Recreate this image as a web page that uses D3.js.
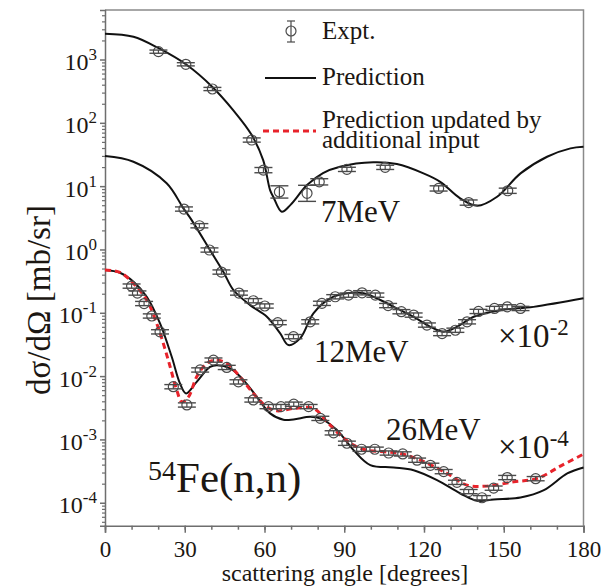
<!DOCTYPE html>
<html>
<head>
<meta charset="utf-8">
<script src="https://cdn.jsdelivr.net/npm/d3@7"></script>
<style>
body { margin: 0; background: #fff; }
svg { display: block; font-family: "Liberation Serif", "Times New Roman", serif; }
</style>
</head>
<body>
<svg width="605" height="588"></svg>
<script>
// 54Fe(n,n) angular distributions, values as plotted (12 MeV x1e-2, 26 MeV x1e-4)
var angles7 = [20.1, 30.4, 40.4, 55.2, 59.6, 65.6, 76.0, 80.6, 91.0, 105.4, 125.5, 136.8, 151.5];
var expt7 = [1330, 840, 342, 53.5, 17.9, 8.1, 7.7, 11.7, 18.4, 19.8, 9.2, 5.5, 8.45];
var err7 = [0.06, 0.06, 0.06, 0.08, 0.1, 0.25, 0.34, 0.12, 0.08, 0.08, 0.1, 0.1, 0.1];

var curveAngles7 = [0, 10.7, 20.0, 30.8, 40.3, 48.2, 55.2, 59.5, 62.1, 63.3, 66.5, 69.7, 76.0, 82.0, 88.4, 100.9, 109.8, 119.8, 126.1, 133.6, 140.0, 147.5, 156.3, 166.3, 175.1, 180];
var pred7 = [2560, 2290, 1520, 818, 372, 159, 64.1, 25.8, 8.67, 6.81, 3.94, 5.02, 10.4, 16.1, 20.3, 23.8, 22.3, 15.9, 11.7, 6.41, 4.90, 6.81, 15.9, 29.1, 39.5, 41.9];

var angles12 = [29.7, 35.5, 39.3, 43.8, 50.4, 55.8, 60.1, 65.0, 70.9, 77.2, 81.6, 86.6, 91.6, 96.7, 101.7, 106.5, 111.5, 116.1, 121.1, 126.8, 131.8, 136.2, 140.5, 146.5, 151.3, 156.3];
var expt12 = [4.35, 2.37, 0.98, 0.44, 0.205, 0.155, 0.128, 0.07, 0.042, 0.072, 0.141, 0.179, 0.190, 0.207, 0.190, 0.13, 0.104, 0.092, 0.064, 0.047, 0.053, 0.072, 0.105, 0.117, 0.124, 0.117];

var curveAngles12 = [0, 10.7, 23.2, 29.5, 32.6, 39.5, 44.5, 48.3, 54.6, 60.9, 65.9, 69.0, 73.4, 78.4, 84.7, 91.0, 97.3, 103.6, 109.8, 116.1, 122.4, 127.4, 132.4, 138.7, 148.7, 161.2, 180];
var pred12 = [29.9, 24.3, 11.1, 4.46, 2.91, 0.98, 0.445, 0.229, 0.132, 0.0865, 0.0473, 0.0309, 0.0394, 0.098, 0.169, 0.203, 0.203, 0.159, 0.117, 0.0865, 0.0601, 0.0501, 0.0601, 0.0865, 0.110, 0.124, 0.169];

var angles26 = [10.0, 12.2, 14.7, 17.6, 20.7, 25.7, 30.8, 35.8, 40.8, 45.8, 50.2, 55.8, 61.5, 66.2, 71.0, 76.6, 81.0, 86.0, 91.0, 96.5, 101.5, 106.7, 112.0, 117.4, 122.4, 127.4, 132.4, 136.8, 141.8, 146.2, 151.3, 162.0];
var expt26 = [0.264, 0.205, 0.14, 0.089, 0.050, 0.0068, 0.0035, 0.0125, 0.0179, 0.0137, 0.0081, 0.0042, 0.0033, 0.0033, 0.0036, 0.0033, 0.00215, 0.00127, 0.00087, 0.00070, 0.00070, 0.00061, 0.00059, 0.00047, 0.00039, 0.00031, 0.00021, 0.00015, 0.00012, 0.00017, 0.00025, 0.00024];

var curveAngles26 = [0, 5.6, 10.7, 15.7, 20.7, 25.1, 28.2, 30.5, 34.5, 39.5, 42.1, 47.1, 52.1, 57.1, 62.1, 67.1, 70.9, 77.2, 81.0, 87.3, 93.5, 99.8, 108.6, 116.1, 124.9, 133.7, 140.0, 146.2, 156.3, 165.1, 173.9, 180];
var pred26 = [0.473, 0.428, 0.309, 0.179, 0.068, 0.0202, 0.00767, 0.00533, 0.00813, 0.0140, 0.0149, 0.0132, 0.00865, 0.00471, 0.00258, 0.00205, 0.00207, 0.00228, 0.00215, 0.0014, 6.78e-4, 3.93e-4, 3.61e-4, 3.27e-4, 2.28e-4, 1.40e-4, 1.07e-4, 1.13e-4, 1.21e-4, 1.58e-4, 2.9e-4, 3.61e-4];

var updAngles26 = [0, 5.6, 10.7, 15.7, 19.9, 23.8, 27.0, 28.9, 31.4, 34.5, 38.3, 41.4, 45.8, 50.8, 55.8, 60.9, 64.7, 70.9, 78.4, 83.5, 88.5, 93.5, 98.5, 111.1, 118.6, 128.7, 136.2, 143.7, 153.8, 162.6, 171.3, 180];
var upd26 = [0.473, 0.435, 0.29, 0.159, 0.060, 0.0179, 0.00601, 0.00393, 0.0047, 0.00975, 0.0159, 0.0179, 0.0159, 0.00975, 0.00533, 0.00327, 0.00283, 0.00309, 0.00309, 0.0019, 0.00117, 8.13e-4, 6.78e-4, 6.01e-4, 4.71e-4, 2.9e-4, 1.9e-4, 1.83e-4, 2.14e-4, 2.42e-4, 3.78e-4, 5.86e-4];

var xTicks = [0, 30, 60, 90, 120, 150, 180];
var yDecades = [-4, -3, -2, -1, 0, 1, 2, 3];

(function() {
var svg = d3.select("svg"),
    pLeft = 105, pRight = 583.5, pTop = 10, pBottom = 525.7;

var x = d3.scaleLinear().domain([0, 180]).range([pLeft, pRight]);
var y = d3.scaleLog().domain([4.34e-5, 6050]).range([pBottom, pTop]);

var axisCol = "#6e6e6e", textCol = "#1c1712";

// frame
svg.append("path")
  .attr("d", "M" + pLeft + "," + pTop + "H" + pRight + "V" + pBottom)
  .attr("fill", "none").attr("stroke", "#8a8a8a").attr("stroke-width", 1.5);

// x axis
var minorX = d3.range(0, 181, 10);
svg.append("g")
  .attr("transform", "translate(0," + pBottom + ")")
  .call(d3.axisBottom(x).tickValues(minorX).tickSize(4).tickFormat(""))
  .call(function(g) { g.select(".domain").remove(); g.selectAll("line").attr("stroke", axisCol).attr("stroke-width", 1.5); });

var gx = svg.append("g")
  .attr("transform", "translate(0," + pBottom + ")")
  .call(d3.axisBottom(x).tickValues(xTicks).tickSize(7).tickPadding(8).tickFormat(d3.format("d")));
gx.select(".domain").attr("stroke", axisCol).attr("stroke-width", 1.5);
gx.selectAll("line").attr("stroke", axisCol).attr("stroke-width", 1.5);
gx.selectAll("text").attr("fill", textCol).style("font-size", "23px").style("font-family", "Liberation Serif");

// y axis
var minorY = [];
for (var k = -5; k <= 3; k++) {
  for (var m = 2; m <= 9; m++) {
    var v = m * Math.pow(10, k);
    if (v > 4.4e-5 && v < 6000) minorY.push(v);
  }
}
svg.append("g")
  .attr("transform", "translate(" + pLeft + ",0)")
  .call(d3.axisLeft(y).tickValues(minorY).tickSize(3).tickFormat(""))
  .call(function(g) { g.select(".domain").remove(); g.selectAll("line").attr("stroke", axisCol).attr("stroke-width", 1.2); });

var gy = svg.append("g")
  .attr("transform", "translate(" + pLeft + ",0)")
  .call(d3.axisLeft(y).tickValues(yDecades.map(function(e) { return Math.pow(10, e); })).tickSize(5).tickPadding(6).tickFormat(""));
gy.select(".domain").attr("stroke", axisCol).attr("stroke-width", 1.5);
gy.selectAll("line").attr("stroke", axisCol).attr("stroke-width", 1.5);
gy.selectAll(".tick").each(function(d) {
  var e = Math.round(Math.log10(d));
  var t = d3.select(this).append("text")
    .attr("x", -8).attr("y", 10)
    .attr("text-anchor", "end").attr("fill", textCol)
    .style("font-family", "Liberation Serif");
  t.append("tspan").style("font-size", "24px").text("10");
  t.append("tspan").style("font-size", "17px").attr("dy", -10).text(e);
});

// axis titles
svg.append("text")
  .attr("transform", "translate(50,300) rotate(-90)")
  .attr("text-anchor", "middle").attr("fill", textCol)
  .style("font-size", "33px")
  .text("dσ/dΩ [mb/sr]");

svg.append("text")
  .attr("x", 345).attr("y", 581)
  .attr("text-anchor", "middle").attr("fill", textCol)
  .style("font-size", "24px")
  .text("scattering angle [degrees]");

// curves
var line = d3.line()
  .x(function(d) { return x(d[0]); })
  .y(function(d) { return y(d[1]); })
  .curve(d3.curveCatmullRom.alpha(0.5));

function zip(a, b) { return a.map(function(v, i) { return [v, b[i]]; }); }

[[curveAngles7, pred7], [curveAngles12, pred12], [curveAngles26, pred26]].forEach(function(c) {
  svg.append("path")
    .datum(zip(c[0], c[1]))
    .attr("fill", "none").attr("stroke", "#111").attr("stroke-width", 2)
    .attr("d", line);
});

svg.append("path")
  .datum(zip(updAngles26, upd26))
  .attr("fill", "none").attr("stroke", "#e8232b").attr("stroke-width", 3)
  .attr("stroke-dasharray", "6,4")
  .attr("d", line);

// experimental points
function drawExpt(ang, val, err) {
  var g = svg.append("g").attr("stroke", "#4a4a4a").attr("fill", "none");
  var pts = g.selectAll("g.pt").data(zip(ang, val)).enter().append("g").attr("class", "pt");
  pts.each(function(d, i) {
    var e = err ? err[i] : 0.08;
    var cx = x(d[0]), hi = y(d[1] * (1 + e)), lo = y(d[1] / (1 + e));
    var s = d3.select(this);
    s.append("line").attr("x1", cx).attr("x2", cx).attr("y1", hi).attr("y2", lo).attr("stroke-width", 1.2);
    s.append("line").attr("x1", cx - 9).attr("x2", cx + 9).attr("y1", hi).attr("y2", hi).attr("stroke-width", 1.4);
    s.append("line").attr("x1", cx - 9).attr("x2", cx + 9).attr("y1", lo).attr("y2", lo).attr("stroke-width", 1.4);
    s.append("circle").attr("cx", cx).attr("cy", y(d[1])).attr("r", 5).attr("stroke-width", 1.2);
  });
}
drawExpt(angles7, expt7, err7);
drawExpt(angles12, expt12, null);
drawExpt(angles26, expt26, null);

// legend
var lg = svg.append("g").style("font-size", "25px").attr("fill", textCol);
lg.append("line").attr("x1", 291).attr("x2", 291).attr("y1", 21).attr("y2", 42).attr("stroke", "#4a4a4a").attr("stroke-width", 1.2);
lg.append("line").attr("x1", 287).attr("x2", 295).attr("y1", 21).attr("y2", 21).attr("stroke", "#4a4a4a").attr("stroke-width", 1.2);
lg.append("line").attr("x1", 287).attr("x2", 295).attr("y1", 42).attr("y2", 42).attr("stroke", "#4a4a4a").attr("stroke-width", 1.2);
lg.append("circle").attr("cx", 291).attr("cy", 31).attr("r", 5).attr("fill", "none").attr("stroke", "#4a4a4a").attr("stroke-width", 1.2);
lg.append("text").attr("x", 322).attr("y", 39).text("Expt.");
lg.append("line").attr("x1", 265).attr("x2", 316).attr("y1", 78).attr("y2", 78).attr("stroke", "#111").attr("stroke-width", 2);
lg.append("text").attr("x", 322).attr("y", 85).text("Prediction");
lg.append("line").attr("x1", 263).attr("x2", 316).attr("y1", 131).attr("y2", 131).attr("stroke", "#e8232b").attr("stroke-width", 3).attr("stroke-dasharray", "6,4");
lg.append("text").attr("x", 322).attr("y", 128).text("Prediction updated by");
lg.append("text").attr("x", 322).attr("y", 148).text("additional input");

// annotations
var ann = svg.append("g").attr("fill", textCol).style("font-size", "31px");
ann.append("text").attr("x", 321).attr("y", 222).text("7MeV");
ann.append("text").attr("x", 314).attr("y", 362).text("12MeV");
ann.append("text").attr("x", 386).attr("y", 440).text("26MeV");

function scaleLabel(xp, yp, ex) {
  var t = ann.append("text").attr("x", xp).attr("y", yp).style("font-size", "33px");
  t.append("tspan").text("×10");
  t.append("tspan").style("font-size", "23px").attr("dy", -12).text(ex);
}
scaleLabel(498, 347, "-2");
scaleLabel(498, 458, "-4");

var fe = ann.append("text").attr("x", 148).attr("y", 492);
fe.append("tspan").style("font-size", "28px").attr("dy", -12).text("54");
fe.append("tspan").style("font-size", "43px").attr("dy", 12).text("Fe(n,n)");
})();
</script>
</body>
</html>
